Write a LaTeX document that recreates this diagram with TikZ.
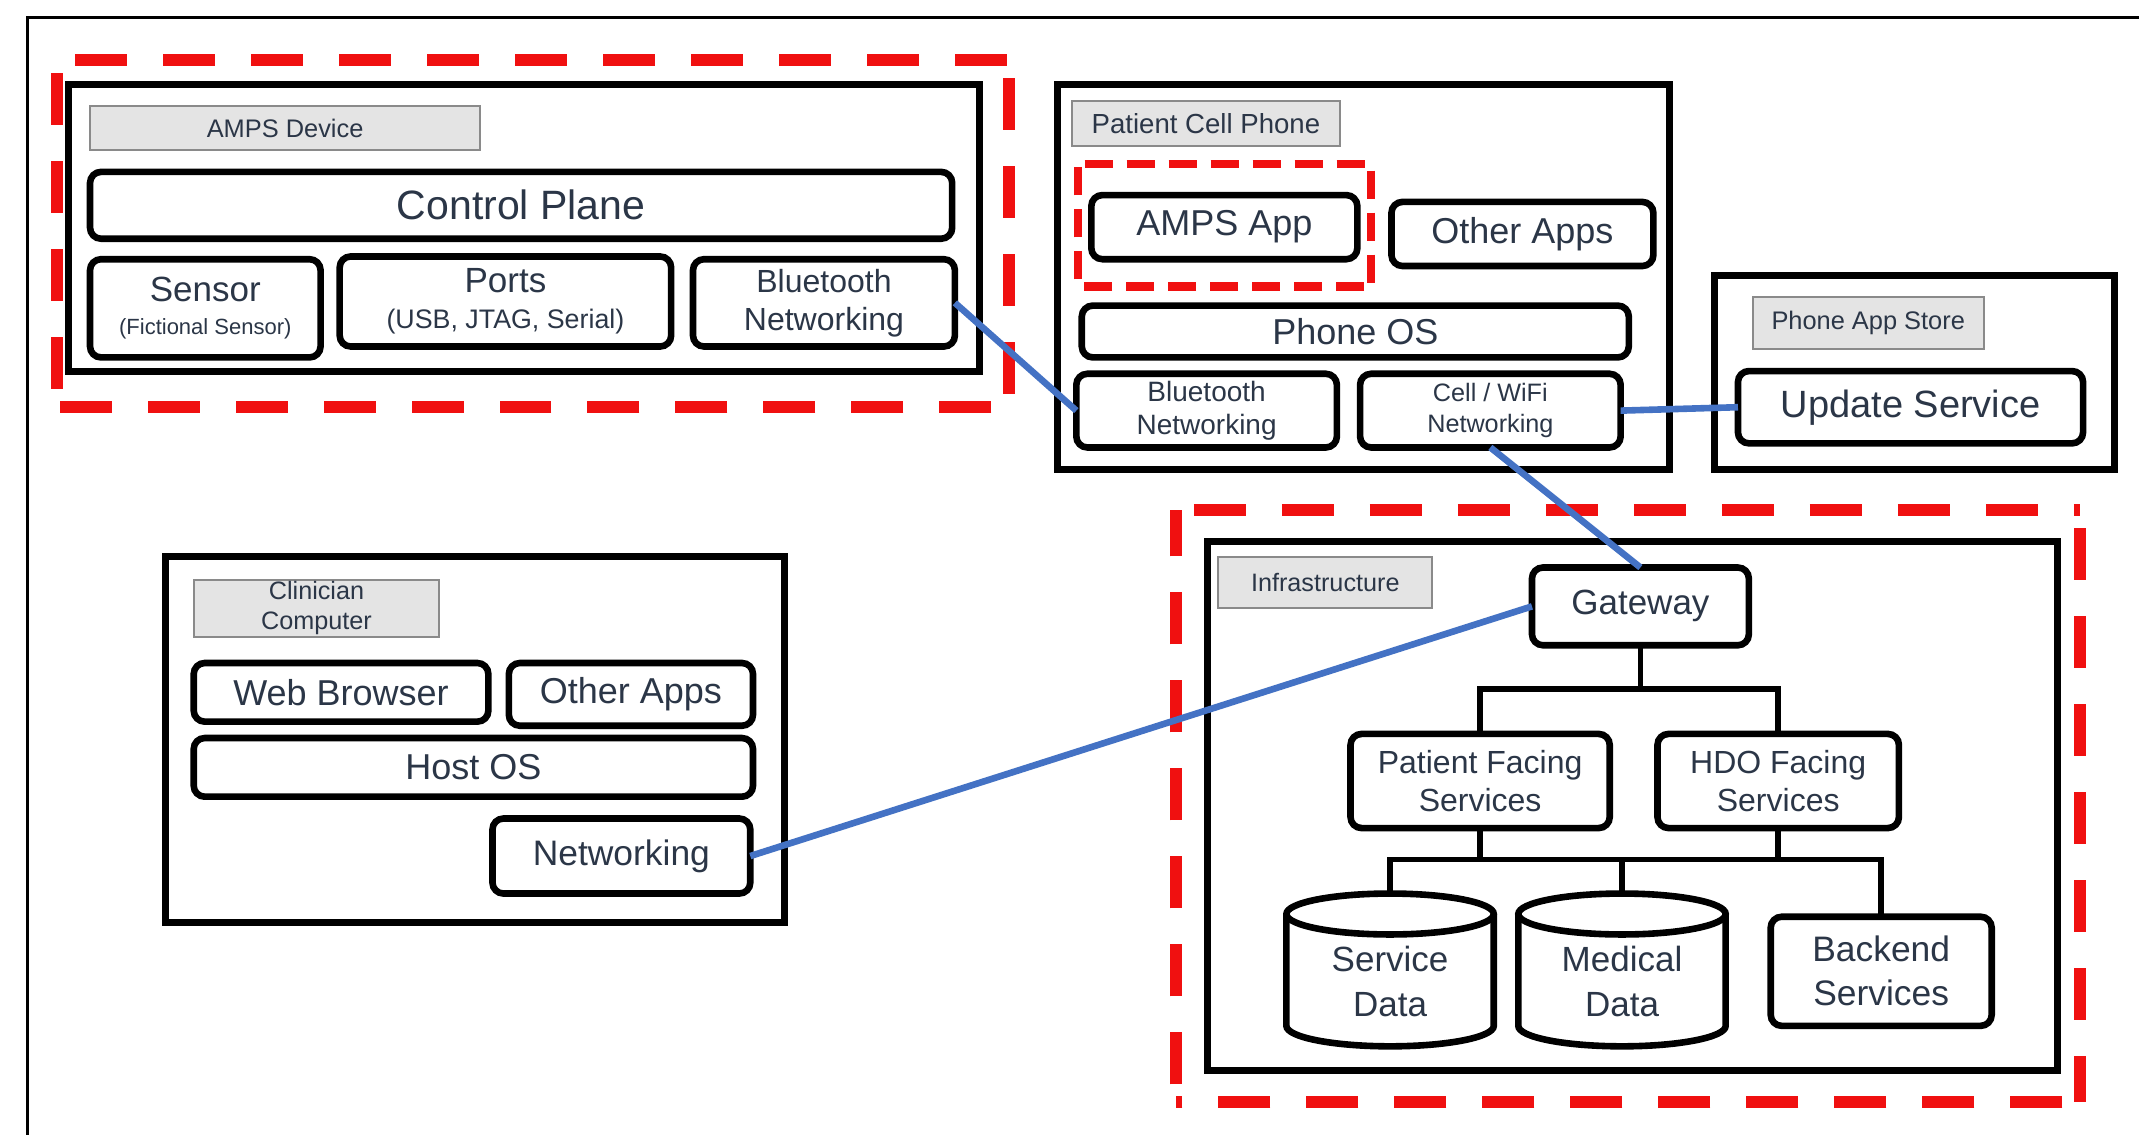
\documentclass[tikz,border=0pt]{standalone}
\usepackage{fontspec}
\setmainfont{Liberation Sans}
\usetikzlibrary{calc}
\definecolor{txt}{HTML}{2B3647}
\definecolor{linkblue}{HTML}{4472C4}
\definecolor{dred}{HTML}{F01010}
\definecolor{lblfill}{HTML}{E4E4E4}
\definecolor{lbldraw}{HTML}{8A8A8A}
\newcommand\bx[7]{\node[#6, minimum width={(#4-#2)*0.6821pt}, minimum height={(#5-#3)*0.6821pt}] (#1) at ({(#2+#4)/2},{(#3+#5)/2}) {#7};}
\newcommand\fs[2]{\fontsize{#1}{#2}\selectfont}
\newcommand\dbox[5]{\draw[#5] (#1,#2) -- (#3,#2); \draw[#5] (#3,#2) -- (#3,#4); \draw[#5] (#3,#4) -- (#1,#4); \draw[#5] (#1,#4) -- (#1,#2);}
\begin{document}
\begin{tikzpicture}[x=0.6821pt,y=-0.6821pt,
 frame/.style={draw=black,line width=3.5pt,inner sep=0pt,outer sep=0pt},
 rbox/.style={draw=black,line width=3.3pt,rounded corners=5.5pt,fill=white,text=txt,inner sep=0pt,outer sep=0pt,align=center},
 lbl/.style={draw=lbldraw,fill=lblfill,line width=1pt,text=txt,inner sep=0pt,outer sep=0pt,align=center},
 cylnode/.style={text=txt,inner sep=0pt,outer sep=0pt,align=center},
 reddash/.style={draw=dred,line width=6pt,dash pattern=on 26pt off 18pt,dash phase=35pt},
 smalldash/.style={draw=dred,line width=4.2pt,dash pattern=on 14pt off 7pt,dash phase=17.5pt},
 link/.style={draw=linkblue,line width=3.3pt},
 tree/.style={draw=black,line width=2.8pt},
 cyl/.style={draw=black,line width=3.3pt},
 outer/.style={draw=black,line width=1.5pt}]

\useasboundingbox (0,0) rectangle (1568,832);
\fill[white] (0,0) rectangle (1568,832);
\draw[outer] (20,840) -- (20,13) -- (1575,13);

% ---------- AMPS device ----------
\dbox{42}{44}{740}{298}{reddash}
\bx{ampsdev}{50}{62}{718}{272}{frame}{}
\bx{ampslbl}{66}{78}{352}{110}{lbl,font=\fs{12.7}{14}}{AMPS Device}
\bx{cp}{66}{126}{698}{175}{rbox,font=\fs{20.5}{22}}{Control Plane}
\bx{sensor}{66}{190}{235}{262}{rbox,font=\fs{17.5}{16.5}}{Sensor\\{\fs{11}{13}(Fictional Sensor)}}
\bx{ports}{249}{188}{492}{254}{rbox,font=\fs{17.5}{18}}{Ports\\{\fs{13.4}{15}(USB, JTAG, Serial)}}
\bx{ampsbt}{508}{190}{700}{254}{rbox,font=\fs{16}{19}}{Bluetooth\\Networking}

% ---------- Patient cell phone ----------
\bx{phone}{775}{62}{1224}{344}{frame}{}
\bx{phlbl}{786}{74}{982}{107}{lbl,font=\fs{13.8}{15}}{Patient Cell Phone}
\dbox{790}{120}{1005}{210}{smalldash}
\bx{app}{800}{143}{995}{190}{rbox,font=\fs{18}{20}}{AMPS App}
\bx{oapps}{1020}{148}{1212}{195}{rbox,font=\fs{18}{20}}{Other Apps}
\bx{phos}{793}{224}{1194}{262}{rbox,font=\fs{18}{20}}{Phone OS}
\bx{phbt}{789}{274}{980}{328}{rbox,font=\fs{14}{16.4}}{Bluetooth\\Networking}
\bx{cell}{997}{274}{1188}{328}{rbox,font=\fs{12.6}{15.7}}{Cell / WiFi\\Networking}

% ---------- Phone app store ----------
\bx{store}{1257}{202}{1550}{344}{frame}{}
\bx{stlbl}{1285}{218}{1454}{256}{lbl,font=\fs{12.7}{14}}{Phone App Store}
\bx{upd}{1274}{272}{1527}{325}{rbox,font=\fs{19}{20}}{Update Service}

% ---------- Infrastructure ----------
\dbox{862}{374}{1525}{808}{reddash}
\bx{infra}{885}{397}{1508}{785}{frame}{}
\bx{inlbl}{893}{408}{1050}{446}{lbl,font=\fs{12.6}{14}}{Infrastructure}
\bx{gw}{1123}{416}{1282}{473}{rbox,font=\fs{17.5}{19}}{Gateway}
\bx{pf}{990}{538}{1180}{607}{rbox,font=\fs{16}{19}}{Patient Facing\\Services}
\bx{hdo}{1215}{538}{1392}{607}{rbox,font=\fs{16}{19}}{HDO Facing\\Services}
\bx{be}{1298}{672}{1460}{752}{rbox,font=\fs{17.7}{22}}{Backend\\Services}

\draw[cyl] (943,670) -- (943,752) arc[start angle=180,end angle=360,x radius=51.84pt,y radius=10.23pt] -- (1095,670);
\draw[cyl] (1019,670) ellipse [x radius=51.84pt, y radius=10.23pt];
\draw[cyl] (1113,670) -- (1113,752) arc[start angle=180,end angle=360,x radius=51.84pt,y radius=10.23pt] -- (1265,670);
\draw[cyl] (1189,670) ellipse [x radius=51.84pt, y radius=10.23pt];
\coordinate (sdtop) at (1019,655);
\coordinate (mdtop) at (1189,655);
\bx{sd}{943}{672}{1095}{767}{cylnode,font=\fs{17.5}{22.5}}{Service\\Data}
\bx{md}{1113}{672}{1265}{767}{cylnode,font=\fs{17.5}{22.5}}{Medical\\Data}

\coordinate (j1) at (0,505);
\coordinate (j2) at (0,630);
\draw[tree] (gw.south) -- (gw.south |- j1);
\draw[tree] (pf.north) -- (pf.north |- j1) -- (hdo.north |- j1) -- (hdo.north);
\draw[tree] (pf.south) -- (pf.south |- j2);
\draw[tree] (hdo.south) -- (hdo.south |- j2);
\draw[tree] (sdtop) -- (sdtop |- j2) -- (be.north |- j2) -- (be.north);
\draw[tree] (mdtop) -- (mdtop |- j2);

% ---------- Clinician computer ----------
\bx{clin}{121}{408}{575}{676}{frame}{}
\bx{cllbl}{142}{425}{322}{467}{lbl,font=\fs{12.6}{15}}{Clinician\\Computer}
\bx{web}{142}{486}{358}{529}{rbox,font=\fs{18}{20}}{Web Browser}
\bx{coapps}{373}{486}{552}{532}{rbox,font=\fs{18}{20}}{Other Apps}
\bx{hos}{142}{541}{552}{584}{rbox,font=\fs{18}{20}}{Host OS}
\bx{cnet}{361}{600}{550}{655}{rbox,font=\fs{17.7}{20}}{Networking}

% ---------- links ----------
\draw[link] (ampsbt.east) -- (phbt.west);
\draw[link] (cell.east) -- (upd.west);
\draw[link] (cell.south) -- (gw.north);
\draw[link] (cnet.east) -- (gw.west);
\end{tikzpicture}
\end{document}
